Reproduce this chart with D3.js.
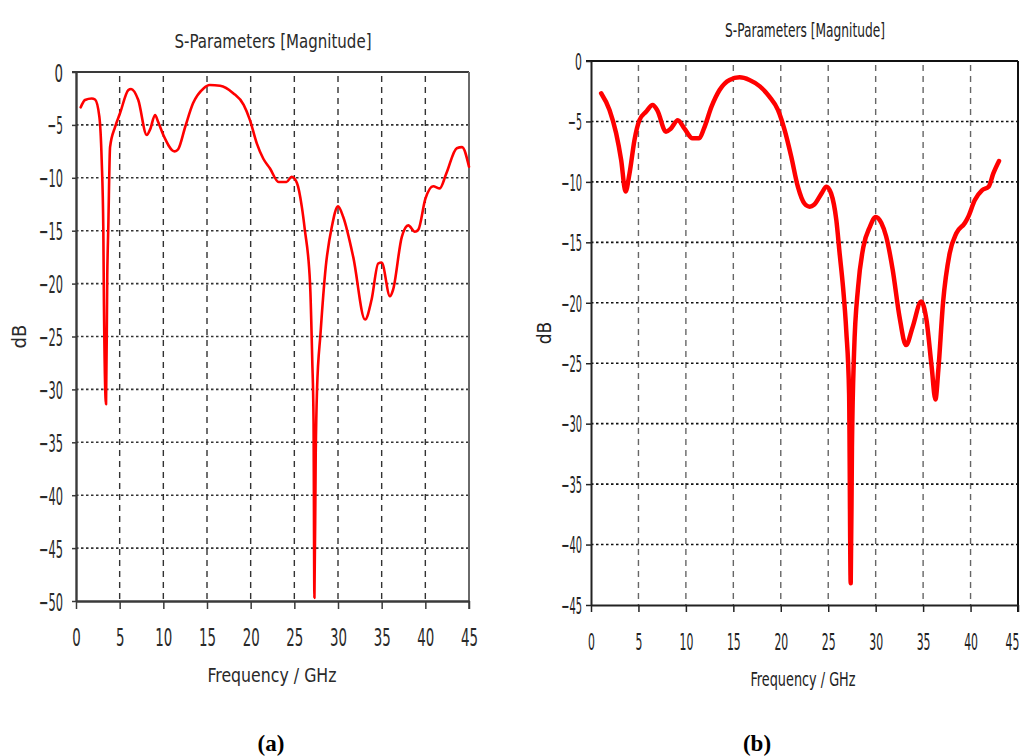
<!DOCTYPE html>
<html>
<head>
<meta charset="utf-8">
<script src="https://cdn.jsdelivr.net/npm/d3@7"></script>
<style>
  body { margin: 0; background: #fff; }
  svg { display: block; }
</style>
</head>
<body>
<div id="chart"></div>
<script>
const WIDTH = 1024;
const HEIGHT = 756;

const TITLE = "S-Parameters [Magnitude]";
const XLABEL = "Frequency / GHz";
const YLABEL = "dB";
const PANEL_TAGS = ["(a)", "(b)"];

const X_TICKS = [0, 5, 10, 15, 20, 25, 30, 35, 40, 45];
const Y_TICKS_A = [0, -5, -10, -15, -20, -25, -30, -35, -40, -45, -50];
const Y_TICKS_B = [0, -5, -10, -15, -20, -25, -30, -35, -40, -45];

// panel (a): frequency (GHz) and magnitude (dB)
const freqA = [0.54, 1.03, 1.8, 2.18, 2.67, 2.94, 3.13, 3.2, 3.44, 3.58, 3.7, 3.9, 4.47, 5.04, 6.0, 6.3,
  7.13, 8.1, 8.5, 9.05, 9.4, 10.0, 11.3, 11.7, 12.5, 13.4, 14.6, 15.3, 16.5, 18.0, 19.2, 19.9, 20.7,
  21.45, 22.2, 23.2, 24.1, 24.7, 25.3, 25.85, 26.2, 26.8, 27.05, 27.2, 27.3, 27.45, 27.6, 28.0, 28.6,
  29.3, 30.0, 30.6, 31.75, 33.1, 33.85, 34.6, 35.0, 35.95, 36.3, 37.3, 38.05, 38.8, 39.2, 40.0, 40.9,
  41.65, 42.4, 43.6, 44.2, 45.0];
const magA = [-3.34, -2.65, -2.5, -2.6, -4.2, -8.3, -15, -22, -31.4, -19.2, -14.6, -7.1, -5.2, -3.9, -1.7, -1.6,
  -2.65, -5.95, -5.4, -4.06, -4.7, -5.95, -7.5, -7.3, -5.2, -2.96, -1.55, -1.23, -1.3, -2.0, -3.1, -4.5, -6.74,
  -8.2, -9.1, -10.4, -10.4, -9.9, -10.5, -12.7, -14.9, -20, -27.2, -33, -49.7, -36, -30, -24.7, -18.4,
  -14.6, -12.7, -13.7, -17.5, -23.4, -21.5, -18.1, -18.0, -21.2, -20.6, -15.6, -14.5, -15.1, -14.9, -12.0, -10.8,
  -11.0, -9.6, -7.2, -7.1, -8.95];

// panel (b)
const freqB = [1.07, 1.95, 2.65, 3.18, 3.64, 4.06, 4.59, 5.1, 5.8, 6.5, 7.0, 7.9, 8.4, 9.15, 9.85, 10.7,
  11.4, 11.9, 12.7, 13.55, 14.6, 15.66, 16.7, 17.8, 18.8, 19.7, 20.4, 21.1, 21.8, 22.5, 23.05, 23.5,
  24.3, 24.8, 25.3, 25.86, 26.2, 26.56, 26.9, 27.2, 27.37, 27.5, 27.72, 28.15, 28.7, 29.4, 30.0, 30.6,
  31.1, 31.8, 32.5, 33.2, 33.9, 34.8, 35.35, 35.9, 36.3, 36.6, 37.1, 37.8, 38.5, 39.4, 39.75, 40.45,
  41.2, 41.9, 42.4, 43.0];
const magB = [-2.67, -4.05, -5.98, -8.2, -10.8, -9.3, -6.5, -4.9, -4.2, -3.64, -4.1, -5.85, -5.6, -4.9, -5.6, -6.4,
  -6.4, -5.6, -3.78, -2.4, -1.57, -1.35, -1.57, -2.1, -2.95, -4.05, -5.7, -7.9, -10.4, -11.8, -12.05, -11.9,
  -10.95, -10.4, -10.95, -13.2, -15.9, -18.7, -22.3, -27.5, -43.2, -32, -24.2, -18.7, -15.4, -13.7, -12.9, -13.4,
  -14.5, -17.3, -21.1, -23.5, -22.0, -19.9, -21.4, -25.3, -28.0, -25.6, -20.0, -15.9, -14.25, -13.4, -12.9, -11.5,
  -10.7, -10.4, -9.3, -8.27];

const NARROW = "'Liberation Sans Narrow', 'DejaVu Sans Condensed', 'DejaVu Sans', sans-serif";

const svg = d3.select("#chart").append("svg")
    .attr("width", WIDTH)
    .attr("height", HEIGHT);

svg.append("rect").attr("width", WIDTH).attr("height", HEIGHT).attr("fill", "#fff");

function labelLength(d, digitW, minusW) {
    const s = String(d);
    return s.replace("-", "").length * digitW + (s.startsWith("-") ? minusW : 0);
}

function drawPanel(p) {
    const x = d3.scaleLinear().domain([0, 45]).range([p.left, p.right]);
    const y = d3.scaleLinear().domain([p.yTicks[p.yTicks.length - 1], 0]).range([p.bottom, p.top]);
    const g = svg.append("g");

    // grid
    g.selectAll(".vgrid").data(X_TICKS.slice(1, -1)).join("line")
        .attr("x1", d => x(d)).attr("x2", d => x(d))
        .attr("y1", p.top + 4).attr("y2", p.bottom)
        .attr("stroke", p.vGridColor).attr("stroke-width", 1.4)
        .attr("stroke-dasharray", "6,5");
    g.selectAll(".hgrid").data(p.yTicks.slice(1, -1)).join("line")
        .attr("x1", p.left).attr("x2", p.right)
        .attr("y1", d => y(d)).attr("y2", d => y(d))
        .attr("stroke", p.hGridColor).attr("stroke-width", 1.6)
        .attr("stroke-dasharray", "2.5,2.5");

    // frame top / right
    g.append("line").attr("x1", p.left - p.yTick).attr("x2", p.right)
        .attr("y1", p.top).attr("y2", p.top)
        .attr("stroke", p.frameColor).attr("stroke-width", 2);
    g.append("line").attr("x1", p.right).attr("x2", p.right)
        .attr("y1", p.top).attr("y2", p.bottom + p.xTick)
        .attr("stroke", p.rightColor).attr("stroke-width", 2);

    // curve
    const line = d3.line()
        .x(d => x(d[0]))
        .y(d => y(d[1]))
        .curve(d3.curveMonotoneX);
    g.append("path")
        .datum(d3.zip(p.freq, p.mag))
        .attr("fill", "none")
        .attr("stroke", "#ff0000")
        .attr("stroke-width", p.lineWidth)
        .attr("stroke-linejoin", "round")
        .attr("stroke-linecap", "round")
        .attr("d", line);

    // axes
    const xAxis = g.append("g")
        .attr("transform", "translate(0," + p.bottom + ")")
        .call(d3.axisBottom(x).tickValues(X_TICKS).tickSize(p.xTick).tickSizeOuter(0));
    const yAxis = g.append("g")
        .attr("transform", "translate(" + p.left + ",0)")
        .call(d3.axisLeft(y).tickValues(p.yTicks).tickSize(p.yTick).tickSizeOuter(0));

    [xAxis, yAxis].forEach(a => {
        a.select(".domain").attr("stroke", p.axisColor).attr("stroke-width", p.axisWidth);
        a.selectAll(".tick line").attr("stroke", p.axisColor).attr("stroke-width", 1.5);
        a.selectAll(".tick text")
            .attr("fill", p.textColor)
            .style("font-family", NARROW)
            .style("font-size", p.tickFont + "px")
            .attr("lengthAdjust", "spacingAndGlyphs")
            .attr("textLength", d => labelLength(d, p.digitW, p.minusW));
    });
    xAxis.selectAll(".tick text")
        .attr("y", p.xLabelY - p.bottom).attr("dy", 0)
        .attr("dx", (d, i, n) => i === n.length - 1 ? p.lastDx : 0);
    yAxis.selectAll(".tick text").attr("x", p.yLabelRight - p.left).attr("dy", "0.36em");

    // titles
    svg.append("text")
        .attr("x", (p.left + p.right) / 2 + 0.5).attr("y", p.titleY)
        .attr("text-anchor", "middle")
        .attr("fill", p.textColor)
        .style("font-family", NARROW).style("font-size", p.titleFont + "px")
        .attr("lengthAdjust", "spacingAndGlyphs").attr("textLength", p.titleLen)
        .text(TITLE);
    svg.append("text")
        .attr("x", p.xTitleX).attr("y", p.xTitleY)
        .attr("text-anchor", "middle")
        .attr("fill", p.textColor)
        .style("font-family", NARROW).style("font-size", p.titleFont + "px")
        .attr("lengthAdjust", "spacingAndGlyphs").attr("textLength", p.xTitleLen)
        .text(XLABEL);
    svg.append("text")
        .attr("transform", "translate(" + p.yTitleX + "," + (p.top + p.bottom) / 2 + ") rotate(-90)")
        .attr("text-anchor", "middle")
        .attr("fill", p.textColor)
        .style("font-family", NARROW).style("font-size", p.titleFont + "px")
        .text(YLABEL);

    svg.append("text")
        .attr("x", p.tagX).attr("y", 751)
        .attr("text-anchor", "middle")
        .style("font-family", "'Liberation Serif', 'Times New Roman', serif")
        .style("font-weight", "bold")
        .style("font-size", "23px")
        .text(p.tag);
}

drawPanel({
    freq: freqA, mag: magA, yTicks: Y_TICKS_A, tag: PANEL_TAGS[0],
    left: 76, right: 469, top: 72, bottom: 601,
    xTick: 8, yTick: 4, lineWidth: 2.6,
    axisColor: "#3a3a3a", axisWidth: 2.4, frameColor: "#3a3a3a", rightColor: "#6a6a6a",
    vGridColor: "#333", hGridColor: "#333", textColor: "#2a2a2a",
    tickFont: 25, digitW: 8.5, minusW: 7, xLabelY: 646, yLabelRight: 63, lastDx: 0,
    titleFont: 20, titleY: 48, titleLen: 197,
    xTitleX: 272, xTitleY: 682, xTitleLen: 129, yTitleX: 26, tagX: 271
});

drawPanel({
    freq: freqB, mag: magB, yTicks: Y_TICKS_B, tag: PANEL_TAGS[1],
    left: 591, right: 1018, top: 61, bottom: 605,
    xTick: 7, yTick: 5, lineWidth: 4.5,
    axisColor: "#222", axisWidth: 2, frameColor: "#111", rightColor: "#111",
    vGridColor: "#666", hGridColor: "#111", textColor: "#222",
    tickFont: 23, digitW: 6.9, minusW: 7, xLabelY: 650, yLabelRight: 582, lastDx: -6,
    titleFont: 19, titleY: 37, titleLen: 160,
    xTitleX: 803, xTitleY: 686, xTitleLen: 105, yTitleX: 551, tagX: 757
});
</script>
</body>
</html>
